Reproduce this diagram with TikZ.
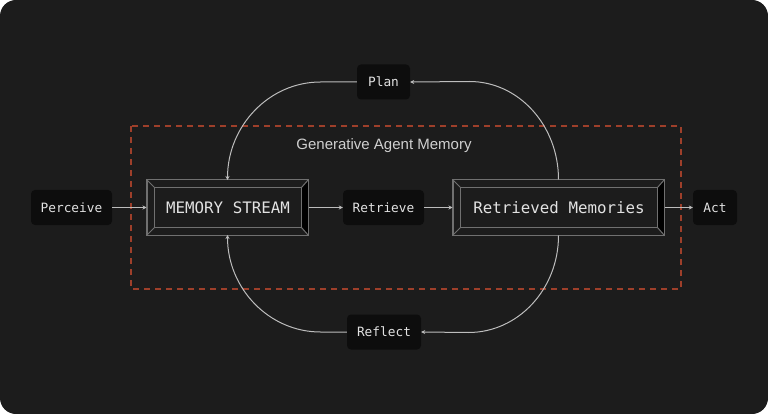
\documentclass[tikz,border=0pt]{standalone}
\usepackage{fontspec}
\setmainfont{Liberation Sans}
\newfontfamily\monof{DejaVu Sans Mono}
\usetikzlibrary{arrows.meta,calc}
\definecolor{bgc}{HTML}{1C1C1C}
\definecolor{boxc}{HTML}{0D0D0D}
\definecolor{linec}{HTML}{BDBDBD}
\definecolor{txtc}{HTML}{E2E2E2}
\definecolor{edgec}{HTML}{707070}
\definecolor{dashc}{HTML}{9E3F2A}
\tikzset{
  smallbox/.style={fill=boxc, rounded corners=4pt, text=txtc, font=\monof\fontsize{12.8}{14}\selectfont, inner sep=0pt, minimum height=35pt},
  bevelbox/.style={draw=edgec, line width=1pt, fill=bgc, text=txtc, font=\monof\fontsize{15.8}{18}\selectfont, inner sep=0pt, minimum height=55pt},
  arr/.style={draw=linec, line width=1pt, -{Stealth[length=4pt,width=4pt]}},
}
\newcommand{\bevel}[1]{%
  \fill[black] (#1.north east) -- (#1.south east) -- ($(#1.south east)+(-7,-8)$) -- ($(#1.north east)+(-7,8)$) -- cycle;
  \draw[edgec, line width=1pt] ($(#1.north west)+(8,8)$) rectangle ($(#1.south east)+(-7,-8)$);
  \draw[edgec, line width=1pt] (#1.north west) -- ($(#1.north west)+(8,8)$);
  \draw[edgec, line width=1pt] (#1.south west) -- ($(#1.south west)+(8,-8)$);
  \draw[edgec, line width=1pt] (#1.north east) -- ($(#1.north east)+(-7,8)$);
  \draw[edgec, line width=1pt] (#1.south east) -- ($(#1.south east)+(-7,-8)$);
  \draw[edgec, line width=1pt] (#1.north west) rectangle (#1.south east);
}
\begin{document}
\begin{tikzpicture}[x=1pt,y=-1pt]
\useasboundingbox (0,0) rectangle (768,414);
\fill[white] (0,0) rectangle (768,414);
\fill[bgc, rounded corners=16pt] (0,0) rectangle (768,414);
% dashed frame
\draw[dashc, line width=1.15pt, dash pattern=on 6pt off 5pt] (131,126) rectangle (681,289);
\node[text=txtc!92!black, font=\fontsize{15}{17}\selectfont] (title) at (384,146) {Generative Agent Memory};
% nodes
\node[smallbox, minimum width=81pt] (perceive) at (71.5,207.5) {Perceive};
\node[bevelbox, minimum width=161pt] (ms) at (227.5,207.5) {};
\bevel{ms}
\node[text=txtc, font=\monof\fontsize{15.8}{18}\selectfont] (mslabel) at (228,208) {MEMORY STREAM};
\node[smallbox, minimum width=81pt] (retrieve) at (383.5,207.5) {Retrieve};
\node[bevelbox, minimum width=211pt] (rm) at (558.5,207.5) {};
\bevel{rm}
\node[text=txtc, font=\monof\fontsize{15.8}{18}\selectfont] (rmlabel) at (559,208) {Retrieved Memories};
\node[smallbox, minimum width=44pt] (act) at (715,207.5) {Act};
\node[smallbox, minimum width=53pt] (plan) at (383.5,82) {Plan};
\node[smallbox, minimum width=74pt] (reflect) at (384,332) {Reflect};
% straight arrows
\draw[arr] (perceive.east) -- (ms.west);
\draw[arr] (ms.east) -- (retrieve.west);
\draw[arr] (retrieve.east) -- (rm.west);
\draw[arr] (rm.east) -- (act.west);
% loops
\draw[arr] (rm.north) arc[start angle=0, end angle=-90, x radius=89, y radius=98] -- (plan.east);
\draw[arr] (plan.west) -- (320.5,82) arc[start angle=-90, end angle=-180, x radius=93, y radius=98];
\draw[arr] (reflect.west) -- (320.5,332) arc[start angle=90, end angle=180, x radius=93, y radius=97];
\draw[arr] (rm.south) arc[start angle=0, end angle=90, x radius=90, y radius=97] -- (reflect.east);
\end{tikzpicture}
\end{document}
